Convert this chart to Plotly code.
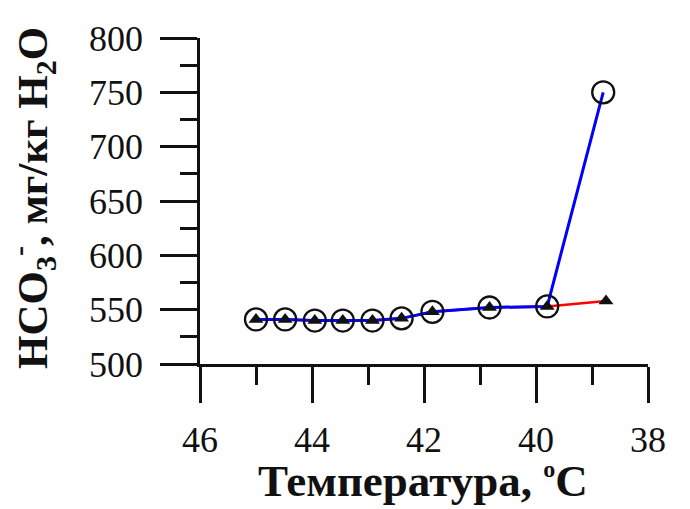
import plotly.graph_objects as go

# Temperature (°C) and HCO3- concentration (mg/kg H2O)
temp_circles = [45.0, 44.48, 43.95, 43.45, 42.92, 42.4, 41.85, 40.83, 39.8, 38.8]
hco3_circles = [541, 541, 540, 540, 540, 542, 548, 552, 553, 750]

temp_triangles = [45.0, 44.48, 43.95, 43.45, 42.92, 42.4, 41.85, 40.83, 39.8, 38.75]
hco3_triangles = [541, 541, 540, 540, 540, 542, 548, 552, 553, 558]

x_ticks = [46, 44, 42, 40, 38]
y_ticks = [500, 550, 600, 650, 700, 750, 800]

FONT = "Liberation Serif"
INK = "#111111"

fig = go.Figure()

# triangle series (red line)
fig.add_trace(go.Scatter(
    x=temp_triangles, y=hco3_triangles, mode="lines",
    line=dict(color="#ff0000", width=2.5), showlegend=False))

# circle series (blue line)
fig.add_trace(go.Scatter(
    x=temp_circles, y=hco3_circles, mode="lines",
    line=dict(color="#0000ff", width=3), showlegend=False))

fig.add_trace(go.Scatter(
    x=temp_circles, y=hco3_circles, mode="markers",
    marker=dict(symbol="circle-open", size=22, color=INK,
                line=dict(width=2.3, color=INK)),
    showlegend=False))

fig.add_trace(go.Scatter(
    x=temp_triangles, y=hco3_triangles, mode="markers",
    marker=dict(symbol="triangle-up", size=13, color=INK),
    showlegend=False))

fig.update_layout(
    width=690, height=509,
    margin=dict(l=200, r=42, t=38, b=145),
    paper_bgcolor="white", plot_bgcolor="white",
    font=dict(family=FONT, color=INK),
)

fig.update_xaxes(
    range=[46, 38], tickvals=x_ticks, ticktext=[str(v) for v in x_ticks],
    showgrid=False, zeroline=False,
    showline=True, linecolor=INK, linewidth=2.5,
    ticks="outside", ticklen=36, tickwidth=2.5, tickcolor=INK,
    minor=dict(tickvals=[45, 43, 41, 39], ticks="outside", ticklen=18,
               tickwidth=2.5, tickcolor=INK),
    tickfont=dict(family=FONT, size=36, color=INK),
    ticklabelstandoff=6,
)

fig.update_yaxes(
    range=[500, 800], tickvals=y_ticks, ticktext=[str(v) for v in y_ticks],
    showgrid=False, zeroline=False,
    showline=True, linecolor=INK, linewidth=2.5,
    ticks="outside", ticklen=37, tickwidth=2.5, tickcolor=INK,
    minor=dict(tickvals=[525, 575, 625, 675, 725, 775], ticks="outside",
               ticklen=17, tickwidth=2.5, tickcolor=INK),
    tickfont=dict(family=FONT, size=36, color=INK),
    ticklabelstandoff=10,
)

fig.add_annotation(
    text="<b>Температура, <sup><span style='font-size:24px'>o</span></sup>C</b>",
    xref="paper", yref="paper",
    x=(423 - 200) / 448, y=-(508 - 364) / 326, xanchor="center", yanchor="bottom",
    showarrow=False, font=dict(family=FONT, size=45, color=INK))

fig.add_annotation(
    text="<b>HCO<sub>3</sub><sup>-</sup>, мг/кг H<sub>2</sub>O</b>",
    xref="paper", yref="paper", textangle=-90,
    x=-(200 - 32) / 448, y=(364 - 198) / 326, xanchor="center", yanchor="middle",
    showarrow=False, font=dict(family=FONT, size=43, color=INK))

fig.write_html("out.html")
